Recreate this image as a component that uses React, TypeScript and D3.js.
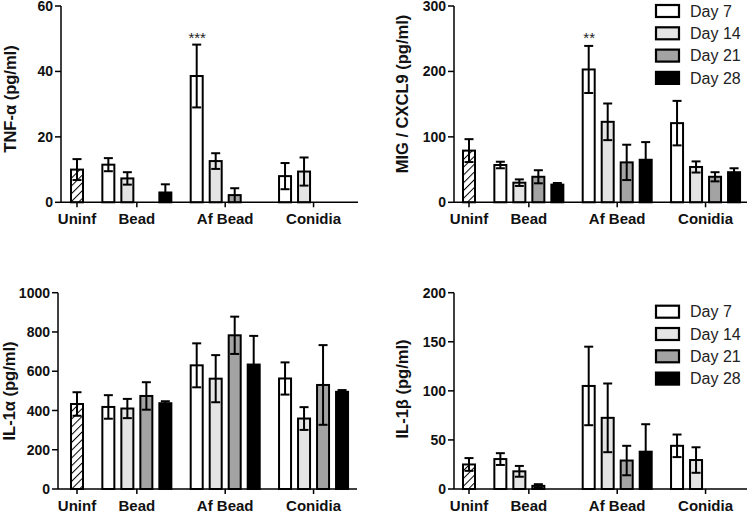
import React from "react";
import * as d3 from "d3";

// ---------- DATA ----------
const groups = ["Bead", "Af Bead", "Conidia"];
const uninfLabel = "Uninf";
const days = ["Day 7", "Day 14", "Day 21", "Day 28"];
const dayColors = ["#ffffff", "#e4e4e4", "#a3a3a3", "#000000"];

// TNF-α (pg/ml)
const tnfUninf = { mean: 10, err: 3.2 };
const tnfMeans = [
  [11.5, 38.6, 8.0],
  [7.3, 12.6, 9.4],
  [null, 2.2, null],
  [3.0, null, null],
];
const tnfErrs = [
  [2.0, 9.6, 4.0],
  [1.9, 2.4, 4.3],
  [null, 2.1, null],
  [2.5, null, null],
];

// MIG / CXCL9 (pg/ml)
const migUninf = { mean: 79, err: 17.5 };
const migMeans = [
  [57, 203, 121],
  [30, 123, 54],
  [39, 61, 39],
  [27, 65, 46],
];
const migErrs = [
  [5, 36, 34],
  [5, 28, 8.5],
  [10, 27, 7],
  [2.5, 27, 6],
];

// IL-1α (pg/ml)
const il1aUninf = { mean: 433, err: 60 };
const il1aMeans = [
  [418, 630, 563],
  [410, 562, 359],
  [474, 783, 530],
  [437, 634, 495],
];
const il1aErrs = [
  [60, 112, 82],
  [49, 120, 58],
  [70, 95, 203],
  [10, 146, 9],
];

// IL-1β (pg/ml)
const il1bUninf = { mean: 25, err: 6.5 };
const il1bMeans = [
  [30.5, 105, 44],
  [18, 72.5, 29.5],
  [3.2, 29, null],
  [null, 38, null],
];
const il1bErrs = [
  [6, 40, 11.5],
  [5.5, 35, 13],
  [1.7, 15, null],
  [null, 28, null],
];

const tnfTicks = [0, 20, 40, 60];
const migTicks = [0, 100, 200, 300];
const il1aTicks = [0, 200, 400, 600, 800, 1000];
const il1bTicks = [0, 50, 100, 150, 200];

// ---------- LAYOUT ----------
const FONT = "'Liberation Sans', Arial, Helvetica, sans-serif";
const GAP = 1.65; // distance between bar centres of adjacent groups, in bar slots
const SLOT_PX = 19;
const BAR_W = 12;

type Panel = {
  title: string;
  uninf: { mean: number; err: number };
  means: (number | null)[][];
  errs: (number | null)[][];
  ticks: number[];
  axisX: number;
  xEnd: number;
  slot0: number;
  yTop: number;
  yZero: number;
  titleX: number;
  titleY: number;
  legend?: { y0: number };
  star?: { group: number; day: number; text: string };
};

const panels: Panel[] = [
  {
    title: "TNF-α (pg/ml)", uninf: tnfUninf, means: tnfMeans, errs: tnfErrs, ticks: tnfTicks,
    axisX: 61, xEnd: 358, slot0: 77, yTop: 6, yZero: 202.3, titleX: 10, titleY: 99,
    star: { group: 1, day: 0, text: "***" },
  },
  {
    title: "MIG / CXCL9 (pg/ml)", uninf: migUninf, means: migMeans, errs: migErrs, ticks: migTicks,
    axisX: 454, xEnd: 747, slot0: 469, yTop: 6, yZero: 202.3, titleX: 402, titleY: 94,
    legend: { y0: 11 }, star: { group: 1, day: 0, text: "**" },
  },
  {
    title: "IL-1α (pg/ml)", uninf: il1aUninf, means: il1aMeans, errs: il1aErrs, ticks: il1aTicks,
    axisX: 58, xEnd: 357, slot0: 77, yTop: 292.7, yZero: 489, titleX: 9, titleY: 391,
  },
  {
    title: "IL-1β (pg/ml)", uninf: il1bUninf, means: il1bMeans, errs: il1bErrs, ticks: il1bTicks,
    axisX: 454, xEnd: 747, slot0: 469, yTop: 292.7, yZero: 489, titleX: 402, titleY: 389,
    legend: { y0: 311.7 },
  },
];

// slot index for each group/day
function slotOf(g: number, d: number) {
  return GAP + g * (days.length - 1 + GAP) + d;
}
function groupCenterSlot(g: number) {
  return slotOf(g, 0) + (days.length - 1) / 2;
}

function ErrBar({ x, y1, y2, y0 }: { x: number; y1: number; y2: number; y0: number }) {
  const cap = 4.5;
  return (
    <g stroke="#000" strokeWidth={2} fill="none">
      <line x1={x} x2={x} y1={y1} y2={y2} />
      <line x1={x - cap} x2={x + cap} y1={y1} y2={y1} />
      {y2 < y0 - 0.5 ? <line x1={x - cap} x2={x + cap} y1={y2} y2={y2} /> : null}
    </g>
  );
}

function PanelView({ p }: { p: Panel }) {
  const yMax = p.ticks[p.ticks.length - 1];
  const y = d3.scaleLinear().domain([0, yMax]).range([p.yZero, p.yTop]);
  const lastSlot = slotOf(groups.length - 1, days.length - 1);
  const x = d3.scaleLinear().domain([0, lastSlot]).range([p.slot0, p.slot0 + lastSlot * SLOT_PX]);

  const bars: React.ReactNode[] = [];
  const errs: React.ReactNode[] = [];

  // Uninf bar
  {
    const cx = x(0);
    const top = y(p.uninf.mean);
    bars.push(
      <g key="u">
        <rect x={cx - BAR_W / 2} y={top} width={BAR_W} height={p.yZero - top} fill="#fff" />
        <rect x={cx - BAR_W / 2} y={top} width={BAR_W} height={p.yZero - top} fill="url(#hatch)" stroke="#000" strokeWidth={2} />
      </g>
    );
    errs.push(
      <ErrBar key="ue" x={cx} y0={p.yZero} y1={y(p.uninf.mean + p.uninf.err)} y2={y(Math.max(0, p.uninf.mean - p.uninf.err))} />
    );
  }

  days.forEach((_, d) => {
    groups.forEach((__, g) => {
      const m = p.means[d][g];
      if (m == null) return;
      const e = p.errs[d][g] ?? 0;
      const cx = x(slotOf(g, d));
      const top = y(m);
      bars.push(
        <rect key={`b${d}-${g}`} x={cx - BAR_W / 2} y={top} width={BAR_W} height={p.yZero - top}
          fill={dayColors[d]} stroke="#000" strokeWidth={2} />
      );
      errs.push(
        <ErrBar key={`e${d}-${g}`} x={cx} y0={p.yZero} y1={y(m + e)} y2={y(Math.max(0, m - e))} />
      );
    });
  });

  const catCenters = [x(0), ...groups.map((_, g) => x(groupCenterSlot(g)))];
  const catLabels = [uninfLabel, ...groups];

  return (
    <g>
      {bars}
      {errs}
      {/* y axis */}
      <line x1={p.axisX} x2={p.axisX} y1={p.yTop} y2={p.yZero} stroke="#000" strokeWidth={1.5} />
      {p.ticks.map((t) => (
        <g key={t}>
          <line x1={p.axisX - 6} x2={p.axisX} y1={y(t)} y2={y(t)} stroke="#000" strokeWidth={1.5} />
          <text x={p.axisX - 8} y={y(t)} dy="0.36em" textAnchor="end" fontSize={14} fontWeight="bold" fontFamily={FONT} fill="#111">
            {t}
          </text>
        </g>
      ))}
      {/* x axis */}
      <line x1={p.axisX} x2={p.xEnd} y1={p.yZero} y2={p.yZero} stroke="#000" strokeWidth={1.5} />
      {catCenters.map((cx, i) => (
        <g key={i}>
          <line x1={cx} x2={cx} y1={p.yZero} y2={p.yZero + 5} stroke="#000" strokeWidth={1.5} />
          <text x={cx} y={p.yZero + 21.7} textAnchor="middle" fontSize={15} fontWeight="bold" fontFamily={FONT} fill="#111">
            {catLabels[i]}
          </text>
        </g>
      ))}
      {/* y title */}
      <text transform={`translate(${p.titleX},${p.titleY}) rotate(-90)`} textAnchor="middle" dy="0.35em"
        fontSize={16.5} fontWeight="bold" fontFamily={FONT} fill="#111">
        {p.title}
      </text>
      {p.star ? (
        <text x={x(slotOf(p.star.group, p.star.day)) + 0.5} y={43} textAnchor="middle" fontSize={15} fontFamily={FONT} fill="#222">
          {p.star.text}
        </text>
      ) : null}
      {p.legend ? (
        <g>
          {days.map((dname, d) => {
            const cy = p.legend!.y0 + d * 22.3;
            return (
              <g key={dname}>
                <rect x={656} y={cy - 6} width={23} height={12} fill={dayColors[d]} stroke="#000" strokeWidth={2.2} />
                <text x={690} y={cy} dy="0.36em" fontSize={16} fontFamily={FONT} fill="#222">
                  {dname}
                </text>
              </g>
            );
          })}
        </g>
      ) : null}
    </g>
  );
}

export default function App() {
  return (
    <svg width={750} height={511} style={{ position: "absolute", left: 0, top: 0, background: "#fff" }}>
      <defs>
        <pattern id="hatch" patternUnits="userSpaceOnUse" width={5.5} height={5.5} patternTransform="rotate(45)">
          <line x1={0} y1={0} x2={0} y2={5.5} stroke="#000" strokeWidth={2} />
        </pattern>
      </defs>
      <rect x={0} y={0} width={750} height={511} fill="#fff" />
      {panels.map((p, i) => (
        <PanelView key={i} p={p} />
      ))}
    </svg>
  );
}
